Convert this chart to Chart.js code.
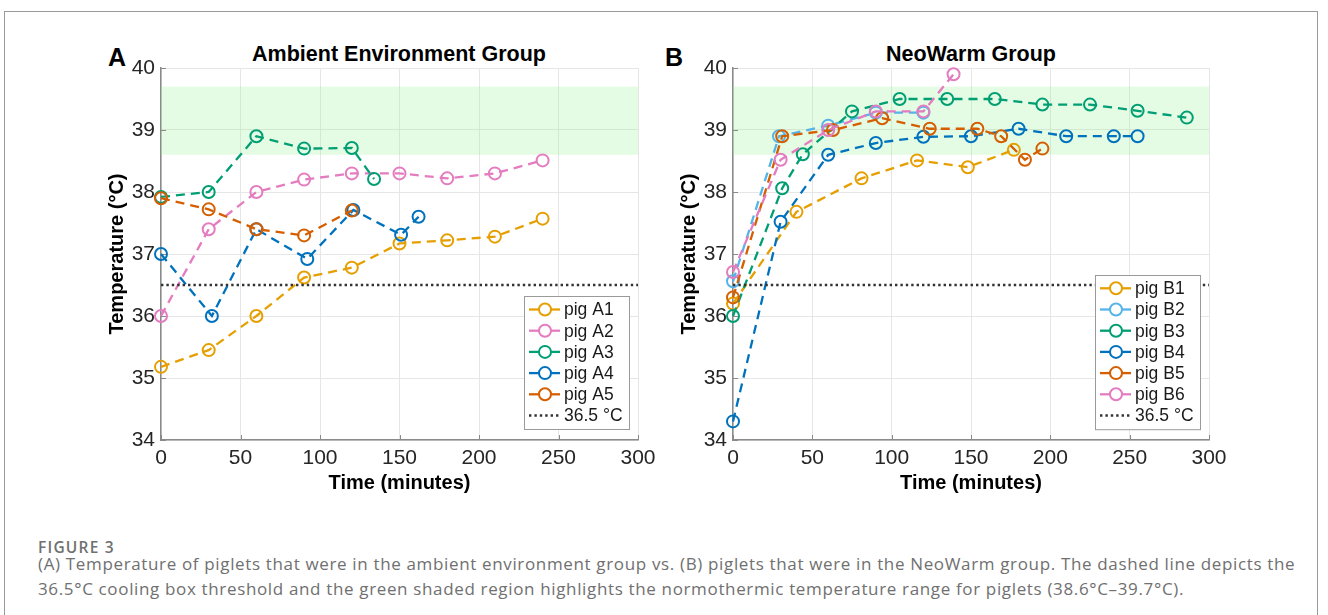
<!DOCTYPE html>
<html>
<head>
<meta charset="utf-8">
<script src="https://cdn.jsdelivr.net/npm/chart.js@4.4.0/dist/chart.umd.min.js"></script>
<style>
  body { margin: 0; width: 1328px; height: 615px; overflow: hidden; position: relative; background: #fff;
         font-family: "Liberation Sans", Arial, sans-serif; }
  #frame { position: absolute; left: 4px; top: 11px; width: 1312px; height: 700px; border: 1px solid #9a9a9a; }
  canvas { position: absolute; top: 30px; }
  .letter { position: absolute; top: 45px; font-size: 25px; font-weight: bold; line-height: 1; color: #000; }
  .title { position: absolute; top: 44px; font-size: 21.5px; font-weight: bold; line-height: 1; color: #000;
           transform: translateX(-50%); white-space: nowrap; }
  .cap { position: absolute; left: 38px; font-family: "Open Sans", sans-serif; color: #707070; white-space: nowrap; }
</style>
</head>
<body>
<div id="frame"></div>
<div class="letter" style="left:108px">A</div>
<div class="letter" style="left:665px">B</div>
<div class="title" style="left:399px">Ambient Environment Group</div>
<div class="title" style="left:971px">NeoWarm Group</div>
<canvas id="chartA" width="575" height="470" style="left:95px"></canvas>
<canvas id="chartB" width="575" height="470" style="left:667px"></canvas>
<div class="cap" style="top:536px; font-size:15.5px; font-weight:600; letter-spacing:1.2px">FIGURE 3</div>
<div class="cap" style="top:551px; font-size:17px; line-height:25px; letter-spacing:0.65px">(A) Temperature of piglets that were in the ambient environment group vs. (B) piglets that were in the NeoWarm group. The dashed line depicts the<br>36.5°C cooling box threshold and the green shaded region highlights the normothermic temperature range for piglets (38.6°C–39.7°C).</div>

<script>
// escalas y referencias
var xMin = 0, xMax = 300, xStep = 50;
var yMin = 34, yMax = 40, yStep = 1;
var threshold = 36.5;
var normoRange = [38.6, 39.7];

// grupo A (ambiente)
var labelsA = ['pig A1', 'pig A2', 'pig A3', 'pig A4', 'pig A5'];
var timeA1 = [0, 30, 60, 90, 120, 150, 180, 210, 240];
var tempA1 = [35.18, 35.45, 36.0, 36.62, 36.78, 37.17, 37.22, 37.28, 37.57];
var timeA2 = [0, 30, 60, 90, 120, 150, 180, 210, 240];
var tempA2 = [36.0, 37.4, 38.0, 38.2, 38.3, 38.3, 38.22, 38.3, 38.51];
var timeA3 = [0, 30, 60, 90, 120, 134];
var tempA3 = [37.92, 38.0, 38.9, 38.7, 38.71, 38.21];
var timeA4 = [0, 32, 60, 92, 121, 151, 162];
var tempA4 = [37.0, 36.0, 37.4, 36.92, 37.71, 37.31, 37.6];
var timeA5 = [0, 30, 60, 90, 120];
var tempA5 = [37.9, 37.72, 37.4, 37.3, 37.7];

// grupo B (NeoWarm)
var labelsB = ['pig B1', 'pig B2', 'pig B3', 'pig B4', 'pig B5', 'pig B6'];
var timeB1 = [0, 40, 81, 116, 148, 177];
var tempB1 = [36.2, 37.68, 38.22, 38.51, 38.4, 38.68];
var timeB2 = [0, 29, 60, 90, 120];
var tempB2 = [36.56, 38.9, 39.07, 39.28, 39.28];
var timeB3 = [0, 31, 44, 75, 105, 135, 165, 195, 225, 255, 286];
var tempB3 = [36.0, 38.06, 38.61, 39.3, 39.5, 39.5, 39.5, 39.41, 39.41, 39.31, 39.2];
var timeB4 = [0, 30, 60, 90, 120, 150, 180, 210, 240, 255];
var tempB4 = [34.3, 37.52, 38.6, 38.79, 38.89, 38.9, 39.02, 38.9, 38.9, 38.9];
var timeB5 = [0, 31, 63, 94, 124, 154, 169, 184, 195];
var tempB5 = [36.3, 38.9, 39.0, 39.19, 39.02, 39.02, 38.9, 38.52, 38.7];
var timeB6 = [0, 30, 60, 90, 120, 139];
var tempB6 = [36.71, 38.52, 39.0, 39.3, 39.3, 39.9];

var colorsA = ['#E69F00', '#E47CC0', '#009E73', '#0072BD', '#D55E00'];
var colorsB = ['#E69F00', '#56B4E9', '#009E73', '#0072BD', '#D55E00', '#E47CC0'];

function pigSet(label, times, temps, color, idx) {
    return {
        label: label,
        data: times.map(function (t, i) { return { x: t, y: temps[i] }; }),
        borderColor: color,
        backgroundColor: 'rgba(0,0,0,0)',
        borderWidth: 2.3,
        borderDash: [9, 6],
        pointRadius: 6,
        pointHoverRadius: 6,
        pointBorderWidth: 2,
        pointBackgroundColor: 'rgba(0,0,0,0)',
        order: 20 - idx,
        clip: false
    };
}

function thresholdSet() {
    return {
        label: '36.5 °C',
        data: [{ x: xMin, y: threshold }, { x: xMax, y: threshold }],
        borderColor: '#333333',
        borderWidth: 2.4,
        borderDash: [2.4, 3],
        pointRadius: 0,
        order: 0
    };
}

// banda verde + marcas interiores
var bandPlugin = {
    id: 'band',
    beforeDatasetsDraw: function (chart) {
        var ctx = chart.ctx, a = chart.chartArea, y = chart.scales.y, x = chart.scales.x;
        var top = y.getPixelForValue(normoRange[1]), bot = y.getPixelForValue(normoRange[0]);
        ctx.save();
        ctx.fillStyle = 'rgba(147,243,147,0.25)';
        ctx.fillRect(a.left, top, a.right - a.left, bot - top);
        ctx.strokeStyle = '#8a8a8a';
        ctx.lineWidth = 1;
        ctx.beginPath();
        x.ticks.forEach(function (t) {
            var px = Math.round(x.getPixelForValue(t.value)) + 0.5;
            ctx.moveTo(px, a.bottom); ctx.lineTo(px, a.bottom - 5);
        });
        y.ticks.forEach(function (t) {
            var py = Math.round(y.getPixelForValue(t.value)) + 0.5;
            ctx.moveTo(a.left, py); ctx.lineTo(a.left + 5, py);
        });
        ctx.stroke();
        ctx.restore();
    }
};

// leyenda dentro del área
var boxLegend = {
    id: 'boxLegend',
    afterDatasetsDraw: function (chart) {
        var ctx = chart.ctx, a = chart.chartArea, sets = chart.data.datasets;
        var rowH = 21.2, w = 105, h = 27 + (sets.length - 1) * rowH;
        var right = a.right - 9, bottom = a.bottom - 11;
        var left = right - w, top = bottom - h;
        ctx.save();
        ctx.fillStyle = '#fff';
        ctx.fillRect(left, top, w, h);
        ctx.strokeStyle = '#9a9a9a';
        ctx.lineWidth = 1;
        ctx.strokeRect(Math.round(left) + 0.5, Math.round(top) + 0.5, w, h);
        ctx.font = '17.5px "Liberation Sans", Arial, sans-serif';
        ctx.textBaseline = 'middle';
        sets.forEach(function (ds, i) {
            var cy = top + 13.5 + i * rowH;
            ctx.strokeStyle = ds.borderColor;
            ctx.lineWidth = ds.pointRadius ? 2.3 : 2.4;
            ctx.setLineDash(ds.pointRadius ? [] : [2.4, 3]);
            ctx.beginPath();
            ctx.moveTo(left + 5, cy); ctx.lineTo(left + 36, cy);
            ctx.stroke();
            ctx.setLineDash([]);
            if (ds.pointRadius) {
                ctx.beginPath();
                ctx.arc(left + 21, cy, 6, 0, Math.PI * 2);
                ctx.fillStyle = '#fff';
                ctx.fill();
                ctx.lineWidth = 2;
                ctx.stroke();
            }
            ctx.fillStyle = '#1a1a1a';
            ctx.fillText(ds.label, left + 40, cy + 1);
        });
        ctx.restore();
    }
};

function makeChart(id, datasets, padRight) {
    var tickFont = { family: '"Liberation Sans", Arial, sans-serif', size: 21 };
    var titleFont = { family: '"Liberation Sans", Arial, sans-serif', size: 20, weight: 'bold' };
    return new Chart(document.getElementById(id).getContext('2d'), {
        type: 'line',
        data: { datasets: datasets },
        plugins: [bandPlugin, boxLegend],
        options: {
            responsive: false,
            animation: false,
            layout: { padding: { left: 0, top: 38, right: padRight, bottom: 0 } },
            scales: {
                x: {
                    type: 'linear', min: xMin, max: xMax,
                    ticks: { stepSize: xStep, color: '#262626', font: tickFont, padding: 6, maxRotation: 0 },
                    grid: { color: '#e6e6e6', drawTicks: false },
                    border: { color: '#8a8a8a', width: 1.5 },
                    title: { display: true, text: 'Time (minutes)', color: '#000', font: titleFont, padding: { bottom: 5 } },
                    afterFit: function (s) { s.height = 60; }
                },
                y: {
                    min: yMin, max: yMax,
                    ticks: { stepSize: yStep, color: '#262626', font: tickFont, padding: 6 },
                    grid: { color: '#e6e6e6', drawTicks: false },
                    border: { color: '#8a8a8a', width: 1.5 },
                    title: { display: true, text: 'Temperature (°C)', color: '#000', font: titleFont, padding: { top: 10 } },
                    afterFit: function (s) { s.width = 66; }
                }
            },
            plugins: { legend: { display: false }, tooltip: { enabled: false } }
        }
    });
}

var timesA = [timeA1, timeA2, timeA3, timeA4, timeA5];
var tempsA = [tempA1, tempA2, tempA3, tempA4, tempA5];
var setsA = labelsA.map(function (l, i) { return pigSet(l, timesA[i], tempsA[i], colorsA[i], i); });
setsA.push(thresholdSet());

var timesB = [timeB1, timeB2, timeB3, timeB4, timeB5, timeB6];
var tempsB = [tempB1, tempB2, tempB3, tempB4, tempB5, tempB6];
var setsB = labelsB.map(function (l, i) { return pigSet(l, timesB[i], tempsB[i], colorsB[i], i); });
setsB.push(thresholdSet());

makeChart('chartA', setsA, 32);
makeChart('chartB', setsB, 33);
</script>
</body>
</html>
